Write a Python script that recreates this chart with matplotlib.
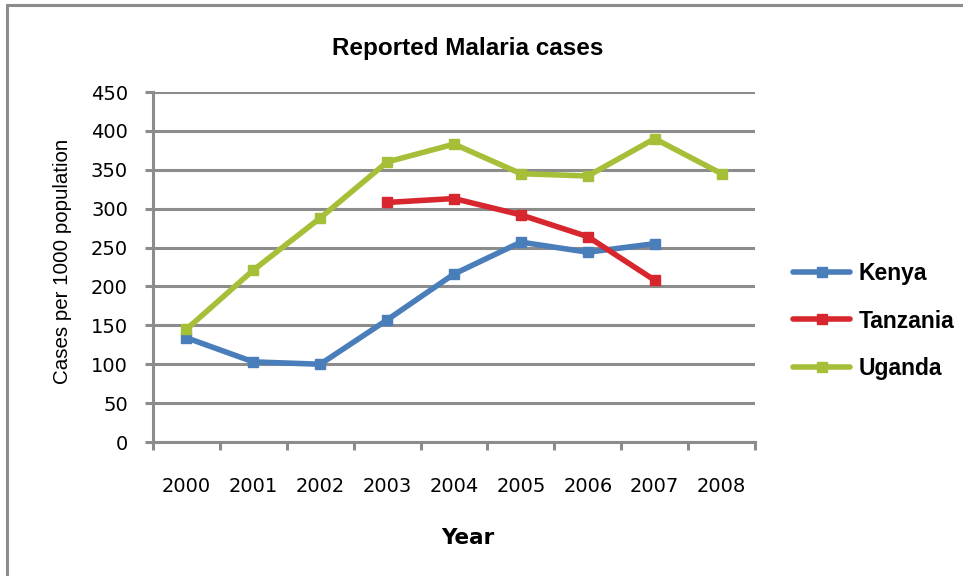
import matplotlib.pyplot as plt
import numpy as np
from matplotlib.patches import Rectangle

years = ["2000", "2001", "2002", "2003", "2004", "2005", "2006", "2007", "2008"]
kenya = [134, 103, 100, 157, 216, 257, 244, 255, None]
tanzania = [None, None, None, 308, 313, 292, 264, 208, None]
uganda = [145, 221, 288, 360, 383, 345, 342, 390, 345]

series_names = ["Kenya", "Tanzania", "Uganda"]
series_colors = ["#4A7EBB", "#D7262D", "#A6BF38"]

GRID = "#8C8C8C"


def to_array(values):
    return np.array([np.nan if v is None else v for v in values], dtype=float)


fig = plt.figure(figsize=(9.63, 5.76), dpi=100)

# outer chart border (right and bottom run off the picture)
fig.patches.append(Rectangle((7 / 963, -0.05), 1.2, (576 - 5) / 576 + 0.05,
                             transform=fig.transFigure, fill=False,
                             edgecolor=GRID, linewidth=2.2))

ax = fig.add_axes([153 / 963, (576 - 442) / 576, 602 / 963, 350 / 576])

x = np.arange(len(years))
for name, vals, color in zip(series_names, [kenya, tanzania, uganda], series_colors):
    ax.plot(x, to_array(vals), color=color, linewidth=4.0, marker="s",
            markersize=7.5, label=name, solid_capstyle="round",
            solid_joinstyle="round", zorder=3)

ax.set_xlim(-0.5, len(years) - 0.5)
ax.set_ylim(0, 450)
ax.set_yticks(np.arange(0, 451, 50))
ax.yaxis.grid(True, color=GRID, linewidth=2.2)
ax.set_axisbelow(True)

# category ticks sit between the years, labels centered on each year
ax.set_xticks(np.arange(-0.5, len(years), 1.0))
ax.set_xticklabels([])
ax.set_xticks(x, minor=True)
ax.set_xticklabels(years, minor=True, fontsize=14, family="DejaVu Sans")
ax.tick_params(axis="x", which="major", length=6, width=2.2, color=GRID,
               direction="out")
ax.tick_params(axis="x", which="minor", length=0, pad=25)
ax.tick_params(axis="y", length=6, width=2.2, color=GRID, labelsize=14,
               pad=12)
for lbl in ax.get_yticklabels():
    lbl.set_family("DejaVu Sans")

for side in ["top", "right"]:
    ax.spines[side].set_visible(False)
for side in ["left", "bottom"]:
    ax.spines[side].set_color(GRID)
    ax.spines[side].set_linewidth(2.2)

fig.text(468 / 963, 1 - 49 / 576, "Reported Malaria cases", ha="center",
         va="center", fontsize=17.5, fontweight="bold",
         family="Liberation Sans")
fig.text(468 / 963, 1 - 538 / 576, "Year", ha="center", va="center",
         fontsize=15.5, fontweight="bold", family="DejaVu Sans")
fig.text(63 / 963, 1 - 261 / 576, "Cases per 1000 population", ha="center",
         va="center", rotation=90, fontsize=14.8,
         family="Liberation Sans")

leg = fig.legend(loc="center left", bbox_to_anchor=(793 / 963, 1 - 321 / 576),
                 frameon=False, borderpad=0, borderaxespad=0,
                 handlelength=2.5, labelspacing=1.05, handletextpad=0.35,
                 prop={"family": "Liberation Sans", "weight": "bold", "size": 16.5})

fig.savefig("out.png", dpi=100)
